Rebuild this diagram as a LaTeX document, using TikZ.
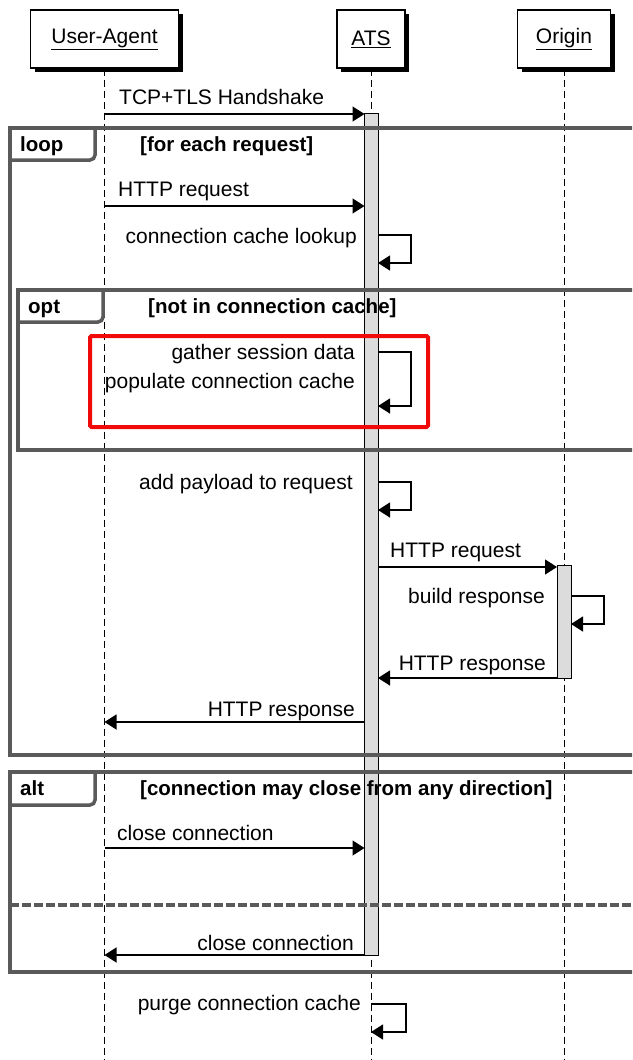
\documentclass[tikz,border=0pt]{standalone}
\usepackage{fontspec}
\setmainfont{Liberation Sans}
\usetikzlibrary{arrows.meta,shadows}
\definecolor{framegray}{HTML}{5A5A5A}
\definecolor{actgray}{HTML}{DCDCDC}
\definecolor{hlred}{HTML}{F00A0A}
\begin{document}
\begin{tikzpicture}[x=1pt,y=-1pt,
  every node/.style={font=\fontsize{21}{25}\selectfont, inner sep=0pt},
  actor/.style={draw=black, line width=1.3pt, fill=white, minimum height=58pt,
    drop shadow={shadow xshift=4pt, shadow yshift=-4pt, fill=black, opacity=1}},
  lifeline/.style={draw=black, line width=1pt, dash pattern=on 7pt off 4pt},
  msg/.style={draw=black, line width=1.3pt, -{Triangle[length=12pt,width=15pt]}},
  bar/.style={draw=black, line width=1pt, fill=actgray},
  frame/.style={draw=framegray, line width=3.5pt},
  tab/.style={draw=framegray, line width=3.5pt, rounded corners=5pt},
  flabel/.style={font=\fontsize{20.5}{25}\selectfont\bfseries, anchor=base west},
  lbl/.style={anchor=base west},
  rlbl/.style={anchor=base east},
]
\useasboundingbox (0,0) rectangle (632,1060);
\clip (0,0) rectangle (632,1060);

% participants
\node[actor, minimum width=148pt] (ua) at (104.5,39) {\raisebox{-2pt}{\underline{User-Agent}}};
\node[actor, minimum width=68pt] (ats) at (371,39) {\raisebox{-2pt}{\underline{ATS}}};
\node[actor, minimum width=93pt] (org) at (564,39) {\raisebox{-2pt}{\underline{Origin}}};

% lifelines
\coordinate (uaEnd) at (104.5,1060);
\coordinate (atsEnd) at (371,1060);
\coordinate (orgEnd) at (564,1060);
\draw[lifeline] (ua.south) -- (uaEnd);
\draw[lifeline] (ats.south) -- (atsEnd);
\draw[lifeline] (org.south) -- (orgEnd);

% activation bars
\draw[bar] (364.5,113) rectangle (378,955);
\draw[bar] (557,565) rectangle (571,678);

% handshake
\coordinate (hs1) at (104.5,114);
\coordinate (hs2) at (364.5,114);
\draw[msg] (hs1) -- (hs2);
\node[lbl] (hsl) at (119,104) {TCP+TLS Handshake};

% loop frame
\draw[frame] (10,128) rectangle (660,755);
\draw[tab] (10,160) -- (95,160) -- (95,128);
\node[flabel] (loopl) at (20,151) {loop};
\node[flabel] (loopc) at (140,151) {[for each request]};

% HTTP request UA -> ATS
\coordinate (rq1) at (104.5,206);
\coordinate (rq2) at (364.5,206);
\draw[msg] (rq1) -- (rq2);
\node[lbl] (rql) at (118,196) {HTTP request};

% connection cache lookup
\coordinate (cl1) at (378,235);
\coordinate (cl2) at (378,263);
\draw[msg] (cl1) -- ++(33,0) |- (cl2);
\node[rlbl] (cll) at (357,243) {connection cache lookup};

% opt frame
\draw[frame] (18,290) rectangle (660,450);
\draw[tab] (18,322) -- (103,322) -- (103,290);
\node[flabel] (optl) at (28,313) {opt};
\node[flabel] (optc) at (148,313) {[not in connection cache]};

% session data
\coordinate (sd1) at (378,352);
\coordinate (sd2) at (378,406);
\draw[msg] (sd1) -- ++(33,0) |- (sd2);
\node[rlbl] (sdl1) at (355,359) {gather session data};
\node[rlbl] (sdl2) at (355,388) {populate connection cache};

% highlight
\draw[hlred, line width=4pt, rounded corners=1.5pt] (90,336) rectangle (428,427);

% add payload
\coordinate (ap1) at (378,482);
\coordinate (ap2) at (378,510);
\draw[msg] (ap1) -- ++(33,0) |- (ap2);
\node[rlbl] (apl) at (353,489) {add payload to request};

% HTTP request ATS -> Origin
\coordinate (or1) at (378,567);
\coordinate (or2) at (557,567);
\draw[msg] (or1) -- (or2);
\node[lbl] (orl) at (390,557) {HTTP request};

% build response
\coordinate (br1) at (571,596);
\coordinate (br2) at (571,624);
\draw[msg] (br1) -- ++(33,0) |- (br2);
\node[rlbl] (brl) at (545,603) {build response};

% HTTP response Origin -> ATS
\coordinate (rs1) at (557,678);
\coordinate (rs2) at (378,678);
\draw[msg] (rs1) -- (rs2);
\node[rlbl] (rsl) at (546,670) {HTTP response};

% HTTP response ATS -> UA
\coordinate (ru1) at (364.5,722);
\coordinate (ru2) at (104.5,722);
\draw[msg] (ru1) -- (ru2);
\node[rlbl] (rul) at (355,716) {HTTP response};

% alt frame
\draw[frame] (10,772) rectangle (660,972);
\draw[tab] (10,805) -- (95,805) -- (95,772);
\node[flabel] (altl) at (20,795) {alt};
\node[flabel] (altc) at (140,795) {[connection may close from any direction]};

% close connection UA -> ATS
\coordinate (cc1) at (104.5,848);
\coordinate (cc2) at (364.5,848);
\draw[msg] (cc1) -- (cc2);
\node[lbl] (ccl) at (117,840) {close connection};

% alternative separator
\coordinate (sep1) at (10,905);
\coordinate (sep2) at (660,905);
\draw[framegray, line width=3.5pt, dash pattern=on 9pt off 3pt] (sep1) -- (sep2);

% close connection ATS -> UA
\coordinate (cd1) at (364.5,955);
\coordinate (cd2) at (104.5,955);
\draw[msg] (cd1) -- (cd2);
\node[rlbl] (cdl) at (354,950) {close connection};

% purge connection cache
\coordinate (pg1) at (371,1004);
\coordinate (pg2) at (371,1032);
\draw[msg] (pg1) -- ++(35,0) |- (pg2);
\node[rlbl] (pgl) at (361,1010) {purge connection cache};
\end{tikzpicture}
\end{document}
